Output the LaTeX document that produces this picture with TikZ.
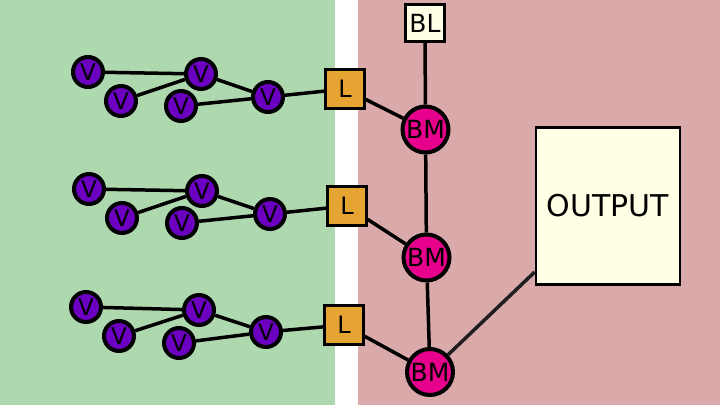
\documentclass[tikz,border=0pt]{standalone}
\usepackage{fontspec}
\setmainfont{DejaVu Sans}
\definecolor{greenbg}{RGB}{174,216,174}
\definecolor{pinkbg}{RGB}{218,170,170}
\definecolor{vfill}{RGB}{108,0,192}
\definecolor{lfill}{RGB}{230,165,50}
\definecolor{bmfill}{RGB}{230,0,140}
\definecolor{boxfill}{RGB}{255,255,229}
\tikzset{
  vnode/.style={circle,draw=black,line width=4pt,fill=vfill,minimum size=30pt,inner sep=0pt,font=\fontsize{23}{23}\selectfont},
  lnode/.style={rectangle,draw=black,line width=2.8pt,fill=lfill,minimum size=38.5pt,inner sep=0pt,font=\fontsize{24}{24}\selectfont},
  bmnode/.style={circle,draw=black,line width=4pt,fill=bmfill,minimum size=46pt,inner sep=0pt,font=\fontsize{25}{25}\selectfont},
  blnode/.style={rectangle,draw=black,line width=2.8pt,fill=boxfill,minimum width=38.5pt,minimum height=37.5pt,inner sep=0pt,font=\fontsize{25}{25}\selectfont},
  outnode/.style={rectangle,draw=black,line width=2.8pt,fill=boxfill,minimum width=144pt,minimum height=157pt,inner sep=0pt,font=\fontsize{30}{30}\selectfont},
  edge/.style={line width=3.5pt,black},
}
\begin{document}
\begin{tikzpicture}[x=1pt,y=-1pt]
\useasboundingbox (0,0) rectangle (720,405);
\fill[white] (0,0) rectangle (720,405);
\fill[greenbg] (0,0) rectangle (335,405);
\fill[pinkbg] (358,0) rectangle (720,405);
% row 1
\node[vnode] (a1) at (88,72) {V};
\node[vnode] (a2) at (121,101) {V};
\node[vnode] (a3) at (201,74) {V};
\node[vnode] (a4) at (181,106) {V};
\node[vnode] (a5) at (268,97) {V};
\node[lnode] (L1) at (345,89) {L};
% row 2
\node[vnode] (b1) at (89,189) {V};
\node[vnode] (b2) at (122,218) {V};
\node[vnode] (b3) at (202,191) {V};
\node[vnode] (b4) at (182,223) {V};
\node[vnode] (b5) at (270,214) {V};
\node[lnode] (L2) at (347,206) {L};
% row 3
\node[vnode] (c1) at (86,307) {V};
\node[vnode] (c2) at (119,336) {V};
\node[vnode] (c3) at (199,310) {V};
\node[vnode] (c4) at (179,343) {V};
\node[vnode] (c5) at (266,332) {V};
\node[lnode] (L3) at (344,325) {L};
% right side
\node[blnode] (BL) at (425,23) {BL};
\node[bmnode] (BM1) at (425.5,129.5) {BM};
\node[bmnode] (BM2) at (426.5,257.5) {BM};
\node[bmnode] (BM3) at (430,372) {BM};
\node[outnode] (OUT) at (608,206) {OUTPUT};
% edges
\foreach \r in {a,b,c}{
  \draw[edge] (\r1) -- (\r3);
  \draw[edge] (\r2) -- (\r3);
  \draw[edge] (\r3) -- (\r5);
  \draw[edge] (\r4) -- (\r5);
}
\draw[edge] (a5) -- (L1);
\draw[edge] (b5) -- (L2);
\draw[edge] (c5) -- (L3);
\draw[edge] (L1) -- (BM1);
\draw[edge] (L2) -- (BM2);
\draw[edge] (L3) -- (BM3);
\draw[edge] (BL) -- (BM1);
\draw[edge] (BM1) -- (BM2);
\draw[edge] (BM2) -- (BM3);
\draw[line width=3.5pt,black!88] (BM3) -- (OUT.222);
\end{tikzpicture}
\end{document}
